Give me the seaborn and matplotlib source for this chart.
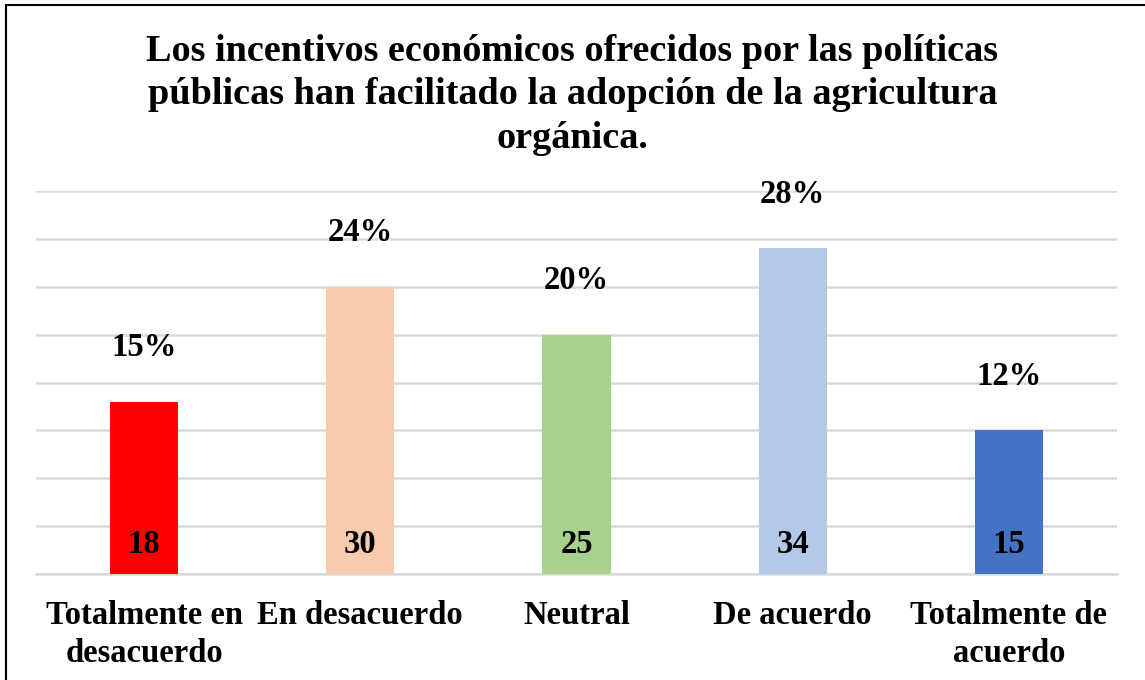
import matplotlib
matplotlib.use("Agg")
import matplotlib.pyplot as plt
import seaborn as sns
import pandas as pd
from matplotlib.lines import Line2D

# chart data
categories = ["Totalmente en\ndesacuerdo", "En desacuerdo", "Neutral",
              "De acuerdo", "Totalmente de\nacuerdo"]
counts = [18, 30, 25, 34, 15]
percents = ["15%", "24%", "20%", "28%", "12%"]
colors = ["#ff0000", "#f8cbad", "#a9d18e", "#b4c7e7", "#4472c4"]

title = ("Los incentivos económicos ofrecidos por las políticas\n"
         "públicas han facilitado la adopción de la agricultura\n"
         "orgánica.")

sns.set_style("white")
plt.rcParams['font.family'] = ['Liberation Serif', 'DejaVu Serif']
plt.rcParams['text.color'] = 'black'
plt.rcParams['xtick.color'] = 'black'

df = pd.DataFrame({"cat": categories, "n": counts})

fig = plt.figure(figsize=(11.45, 6.8), dpi=100)
ax = fig.add_axes([36 / 1145, 106 / 680, 1081 / 1145, 383 / 680])

sns.barplot(data=df, x="cat", y="n", hue="cat", palette=colors,
            legend=False, width=0.315, saturation=1, linewidth=0,
            ax=ax, zorder=3)

ax.set_ylim(0, 40)
ax.set_xlim(-0.5, len(categories) - 0.5)
ax.set_yticks(range(0, 41, 5))
ax.yaxis.grid(True, color="#d9d9d9", linewidth=1.8, zorder=0)
ax.set_axisbelow(True)
ax.tick_params(axis="y", left=False, labelleft=False)
ax.tick_params(axis="x", bottom=False, pad=15, labelcolor="black")
for lbl in ax.get_xticklabels():
    lbl.set_fontsize(23.5)
    lbl.set_fontweight("bold")
    lbl.set_linespacing(1.32)
ax.set_xlabel("")
ax.set_ylabel("")
for side in ["top", "left", "right"]:
    ax.spines[side].set_visible(False)
ax.spines["bottom"].set_color("#d9d9d9")
ax.spines["bottom"].set_linewidth(1.8)

# labels
for i, (n, p) in enumerate(zip(counts, percents)):
    ax.annotate(p, (i, n), xytext=(0, 39), textcoords="offset points",
                ha="center", va="center", fontsize=23.5, fontweight="bold",
                color="black")
    ax.annotate(str(n), (i, 0), xytext=(0, 21), textcoords="offset points",
                ha="center", va="center", fontsize=23.5, fontweight="bold",
                color="black", zorder=5)

fig.text(0.5, (680 - 95) / 680, title, ha="center", va="center", fontsize=27.5,
         fontweight="bold", linespacing=1.3, color="black")

# frame on left and top edge
fig.add_artist(Line2D([6 / 1145, 6 / 1145], [0, 675 / 680], color="black",
                      linewidth=1.5, transform=fig.transFigure))
fig.add_artist(Line2D([6 / 1145, 1], [675 / 680, 675 / 680], color="black",
                      linewidth=1.5, transform=fig.transFigure))

fig.savefig("out.png", dpi=100)
